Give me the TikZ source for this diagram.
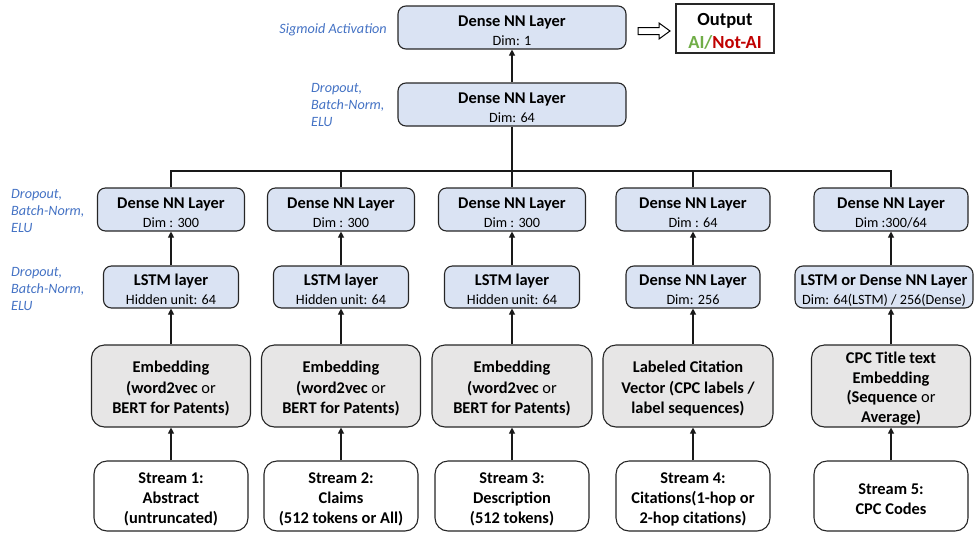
\documentclass[tikz,border=0pt]{standalone}
\usepackage{fontspec}
\setmainfont{Carlito}
\usetikzlibrary{arrows.meta}
\definecolor{boxblue}{HTML}{DAE3F3}
\definecolor{boxgray}{HTML}{E7E6E6}
\definecolor{noteblue}{HTML}{4472C4}
\definecolor{aigreen}{HTML}{70AD47}
\definecolor{aired}{HTML}{C00000}
\newcommand\ttlfont{\fontsize{16.4}{19}\selectfont\bfseries}
\newcommand\rg{\mdseries}
\newcommand\pushdn{\rule{0pt}{17pt}}
\tikzset{
  layer/.style={draw=black!85, line width=1.1pt, rounded corners=8pt, fill=boxblue,
    minimum height=43pt, align=center, inner sep=0pt, font=\fontsize{14.2}{19}\selectfont},
  emb/.style={draw=black!85, line width=1.1pt, rounded corners=13pt, fill=boxgray,
    minimum height=82pt, align=center, inner sep=0pt, font=\fontsize{16.4}{20.5}\selectfont\bfseries},
  stream/.style={draw=black!85, line width=1.1pt, rounded corners=13pt, fill=white,
    minimum height=70pt, align=center, inner sep=0pt, font=\fontsize{16.4}{20}\selectfont\bfseries},
  note/.style={text=noteblue, font=\fontsize{14.2}{17}\selectfont\itshape, align=left, inner sep=0pt},
  link/.style={line width=1.1pt, draw=black!90},
  up/.style={link, -{Triangle[length=6pt,width=6pt]}},
}
\begin{document}
\begin{tikzpicture}[x=1pt,y=-1pt]
\useasboundingbox (0,0) rectangle (976,533);

% top part
\node[layer, minimum width=228pt] (d1) at (512,27.5) {{\ttlfont\pushdn Dense NN Layer}\\Dim: 1};
\node[layer, minimum width=228pt] (d2) at (512,104.5) {{\ttlfont\pushdn Dense NN Layer}\\Dim: 64};
\node[draw=black!85, line width=1.3pt, fill=white, minimum width=98pt, minimum height=49pt,
      inner sep=0pt, align=center, font=\fontsize{18.5}{23}\selectfont\bfseries] (out) at (725,28.5)
      {\rule{0pt}{17pt}Output\\{\color{aigreen}AI/}{\color{aired}Not-AI}};
\node[note, anchor=east] (sig) at (387,30) {Sigmoid Activation};
\node[note, anchor=west] (n0) at (311,105) {Dropout,\\Batch-Norm,\\ELU};
\node[note, anchor=west] (n1) at (11,211) {Dropout,\\Batch-Norm,\\ELU};
\node[note, anchor=west] (n2) at (11,289) {Dropout,\\Batch-Norm,\\ELU};

% hollow block arrow
\draw[line width=1pt, fill=white] (638,27.5) -- (659,27.5) -- (659,23) -- (670,31) -- (659,39) -- (659,34.5) -- (638,34.5) -- cycle;

% row 3 dense layers
\node[layer, minimum width=147pt] (r3a) at (171,209.5) {{\ttlfont\pushdn Dense NN Layer}\\Dim : 300};
\node[layer, minimum width=147pt] (r3b) at (341,209.5) {{\ttlfont\pushdn Dense NN Layer}\\Dim : 300};
\node[layer, minimum width=147pt] (r3c) at (512,209.5) {{\ttlfont\pushdn Dense NN Layer}\\Dim : 300};
\node[layer, minimum width=154pt] (r3d) at (693,209.5) {{\ttlfont\pushdn Dense NN Layer}\\Dim : 64};
\node[layer, minimum width=154pt] (r3e) at (891,209.5) {{\ttlfont\pushdn Dense NN Layer}\\Dim :300/64};

% row 4
\node[layer, minimum width=135pt, minimum height=42pt] (r4a) at (171,287) {{\ttlfont\pushdn LSTM layer}\\Hidden unit: 64};
\node[layer, minimum width=135pt, minimum height=42pt] (r4b) at (341,287) {{\ttlfont\pushdn LSTM layer}\\Hidden unit: 64};
\node[layer, minimum width=135pt, minimum height=42pt] (r4c) at (512,287) {{\ttlfont\pushdn LSTM layer}\\Hidden unit: 64};
\node[layer, minimum width=134pt, minimum height=42pt] (r4d) at (693,287) {{\ttlfont\pushdn Dense NN Layer}\\Dim: 256};
\node[layer, minimum width=178pt, minimum height=42pt] (r4e) at (884,287) {{\ttlfont\pushdn LSTM or Dense NN Layer}\\Dim: 64(LSTM) / 256(Dense)};

% row 5 embeddings
\node[emb, minimum width=159pt] (e1) at (171,386) {\pushdn Embedding\\(word2vec {\rg or}\\BERT for Patents)};
\node[emb, minimum width=159pt] (e2) at (341,386) {\pushdn Embedding\\(word2vec {\rg or}\\BERT for Patents)};
\node[emb, minimum width=160pt] (e3) at (512,386) {\pushdn Embedding\\(word2vec {\rg or}\\BERT for Patents)};
\node[emb, minimum width=170pt] (e4) at (688,386) {\pushdn Labeled Citation\\Vector (CPC labels /\\label sequences)};
\node[emb, minimum width=159pt, font=\fontsize{16.4}{19.7}\selectfont\bfseries] (e5) at (891,386) {\pushdn CPC Title text\\Embedding\\(Sequence {\rg or}\\Average)};

% row 6 streams
\node[stream, minimum width=154pt] (s1) at (171,496) {\pushdn Stream 1:\\Abstract\\(untruncated)};
\node[stream, minimum width=154pt] (s2) at (341,496) {\pushdn Stream 2:\\Claims\\(512 tokens or All)};
\node[stream, minimum width=154pt] (s3) at (512,496) {\pushdn Stream 3:\\Description\\(512 tokens)};
\node[stream, minimum width=154pt] (s4) at (693,496) {\pushdn Stream 4:\\Citations(1-hop or\\2-hop citations)};
\node[stream, minimum width=154pt] (s5) at (891,496) {\pushdn Stream 5:\\CPC Codes};

% connectors
\coordinate (bus) at (512,171);
\draw[up] (d2) -- (d1);
\draw[link] (d2) -- (bus);
\draw[link] (r3a.north) -- (r3a.north |- bus) -- (r3e.north |- bus) -- (r3e.north);
\draw[link] (r3b.north) -- (r3b.north |- bus);
\draw[link] (r3c.north) -- (r3c.north |- bus);
\draw[link] (r3d.north) -- (r3d.north |- bus);

\foreach \c in {a,b,c,d}{
  \draw[up] (r4\c) -- (r3\c);
}
\draw[up] (r3e.south |- r4e.north) -- (r3e.south);

\draw[up] (e1) -- (r4a);
\draw[up] (e2) -- (r4b);
\draw[up] (e3) -- (r4c);
\draw[up] (r4d.south |- e4.north) -- (r4d.south);
\draw[up] (e5.north) -- (e5.north |- r4e.south);

\draw[up] (s1) -- (e1);
\draw[up] (s2) -- (e2);
\draw[up] (s3) -- (e3);
\draw[up] (s4.north) -- (s4.north |- e4.south);
\draw[up] (s5) -- (e5);
\end{tikzpicture}
\end{document}
